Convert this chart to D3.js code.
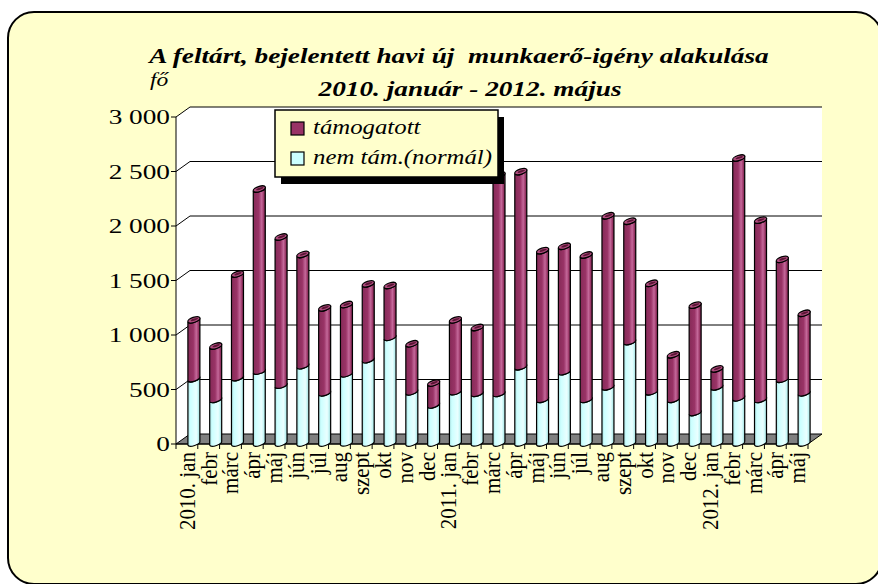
<!DOCTYPE html>
<meta charset="utf-8">
<title>Munkaerő-igény</title>
<style>
  body { margin: 0; background: #fff; }
</style>
<body>
<div id="chart"></div>
<script src="https://cdn.jsdelivr.net/npm/d3@7"></script>
<script>
// months, 2010 jan - 2012 máj
var months = ["2010. jan", "febr", "márc", "ápr", "máj", "jún", "júl", "aug", "szept", "okt", "nov", "dec",
              "2011. jan", "febr", "márc", "ápr", "máj", "jún", "júl", "aug", "szept", "okt", "nov", "dec",
              "2012. jan", "febr", "márc", "ápr", "máj"];
// nem támogatott (normál) - lower part
var nemTam = [590, 400, 600, 660, 530, 710, 460, 635, 765, 970, 470, 350,
              470, 455, 455, 700, 400, 655, 400, 515, 930, 470, 400, 280,
              515, 415, 400, 585, 460];
// támogatott - upper part
var tamogatott = [540, 490, 950, 1670, 1360, 1020, 780, 635, 695, 475, 440, 200,
                  660, 605, 2005, 1790, 1365, 1150, 1325, 1570, 1105, 995, 410, 985,
                  165, 2200, 1645, 1100, 730];
var yTicks = [0, 500, 1000, 1500, 2000, 2500, 3000];
var seriesNames = ["támogatott", "nem tám.(normál)"];

var W = 878, H = 584;
var dx = 14, dy = -10;   // 3d depth
var sx = 1.24;           // the original picture is stretched sideways
var svg = d3.select("#chart").append("svg")
    .attr("width", W).attr("height", H)
    .attr("font-family", "Liberation Serif");

var defs = svg.append("defs");
function grad(id, stops) {
  var g = defs.append("linearGradient").attr("id", id)
      .attr("x1", 0).attr("x2", 1).attr("y1", 0).attr("y2", 0);
  stops.forEach(function(s) { g.append("stop").attr("offset", s[0]).attr("stop-color", s[1]); });
}
grad("gPurple", [[0, "#862b58"], [0.45, "#993366"], [0.7, "#c4689a"], [0.85, "#a03c6d"], [1, "#6e1f46"]]);
grad("gCyan", [[0, "#a9dede"], [0.2, "#ccffff"], [0.7, "#eaffff"], [0.85, "#c6f6f6"], [1, "#95c8c8"]]);

// frame
svg.append("rect")
    .attr("x", 8).attr("y", 12).attr("width", 874).attr("height", 572)
    .attr("rx", 26).attr("ry", 26)
    .attr("fill", "#ffffcc").attr("stroke", "#000").attr("stroke-width", 2);

// scales
var x = d3.scaleBand().domain(d3.range(months.length)).range([176, 808]);
var y = d3.scaleLinear().domain([0, 3000]).range([444, 117]);

// walls
var x0 = x.range()[0], x1 = x.range()[1];
svg.append("polygon")
    .attr("points", [[x0, y(3000)], [x0 + dx, y(3000) + dy], [x1 + dx, y(3000) + dy], [x1 + dx, y(0) + dy], [x0, y(0)]].join(" "))
    .attr("fill", "#fff");

// gridlines
svg.append("g").selectAll("path")
  .data(yTicks.slice(1))
  .join("path")
    .attr("d", function(v) {
      return "M" + x0 + "," + y(v) + "L" + (x0 + dx) + "," + (y(v) + dy) + "L" + (x1 + dx) + "," + (y(v) + dy);
    })
    .attr("fill", "none").attr("stroke", "#000").attr("stroke-width", 1);

// floor
svg.append("polygon")
    .attr("points", [[x0, y(0)], [x1, y(0)], [x1 + dx, y(0) + dy], [x0 + dx, y(0) + dy]].join(" "))
    .attr("fill", "#808080").attr("stroke", "#000").attr("stroke-width", 1);

// y axis
var yAxis = svg.append("g");
yAxis.append("line").attr("x1", x0).attr("x2", x0).attr("y1", y(3000)).attr("y2", y(0))
    .attr("stroke", "#000");
yAxis.selectAll("line.tick").data(yTicks).join("line").attr("class", "tick")
    .attr("x1", x0 - 5).attr("x2", x0).attr("y1", d => y(d)).attr("y2", d => y(d))
    .attr("stroke", "#000");
yAxis.selectAll("text").data(yTicks).join("text")
    .attr("transform", d => "translate(" + (x0 - 6) + "," + y(d) + ") scale(" + sx + ",1)")
    .attr("dy", "0.34em")
    .attr("text-anchor", "end").attr("font-size", 22)
    .text(d => d3.format(",")(d).replace(",", " "));

// x axis
var xAxis = svg.append("g");
xAxis.append("line").attr("x1", x0).attr("x2", x1).attr("y1", y(0)).attr("y2", y(0)).attr("stroke", "#000");
xAxis.selectAll("line.tick").data(d3.range(months.length + 1)).join("line").attr("class", "tick")
    .attr("x1", d => x0 + d * x.bandwidth()).attr("x2", d => x0 + d * x.bandwidth())
    .attr("y1", y(0)).attr("y2", y(0) + 5).attr("stroke", "#000");
xAxis.selectAll("text").data(months).join("text")
    .attr("transform", (d, i) => "translate(" + (x(i) + x.bandwidth() / 2) + "," + (y(0) + 8) + ") scale(1.12,1) rotate(-90)")
    .attr("dy", "0.34em").attr("text-anchor", "end")
    .attr("font-size", 21)
    .text(d => d);

// bars (cylinders)
var bw = 12, s = 2;
var rx = Math.sqrt((bw / 2) * (bw / 2) + s * s), ry = 2.6;
var rot = Math.atan2(-s, bw / 2) * 180 / Math.PI;
function segPath(cx, yb, yt) {
  var l = cx - bw / 2, r = cx + bw / 2;
  return "M" + l + "," + (yt + s) + "L" + l + "," + (yb + s) +
    "A" + rx + "," + ry + " " + rot + " 0 0 " + r + "," + (yb - s) +
    "L" + r + "," + (yt - s) +
    "A" + rx + "," + ry + " " + rot + " 0 1 " + l + "," + (yt + s) + "Z";
}
var bars = svg.append("g").selectAll("g")
  .data(months.map(function(m, i) { return {i: i, nem: nemTam[i], tam: tamogatott[i]}; }))
  .join("g");
function cxOf(d) { return x(d.i) + x.bandwidth() / 2 + dx / 2; }
var base = y(0) - 1;
bars.append("path")
    .attr("d", d => segPath(cxOf(d), base, y(d.nem) - 1))
    .attr("fill", "url(#gCyan)").attr("stroke", "#000").attr("stroke-width", 1.2);
bars.append("path")
    .attr("d", d => segPath(cxOf(d), y(d.nem) - 1, y(d.nem + d.tam) - 1))
    .attr("fill", "url(#gPurple)").attr("stroke", "#000").attr("stroke-width", 1.2);
bars.append("ellipse")
    .attr("transform", d => "translate(" + cxOf(d) + "," + (y(d.nem + d.tam) - 1) + ") rotate(" + rot + ")")
    .attr("rx", rx).attr("ry", ry)
    .attr("fill", "#b04c7e").attr("stroke", "#000").attr("stroke-width", 1.2);
bars.append("ellipse")
    .attr("transform", d => "translate(" + (cxOf(d) + 0.5) + "," + (y(d.nem + d.tam) - 1.3) + ") rotate(" + rot + ")")
    .attr("rx", rx - 2.5).attr("ry", 1)
    .attr("fill", "#5a1535");

// legend
var leg = svg.append("g").attr("transform", "translate(275,110)");
leg.append("rect").attr("x", 6).attr("y", 7).attr("width", 223).attr("height", 67).attr("fill", "#000");
leg.append("rect").attr("width", 223).attr("height", 67)
    .attr("fill", "#ffffcc").attr("stroke", "#000").attr("stroke-width", 1.5);
var li = leg.selectAll("g.item").data(seriesNames).join("g").attr("class", "item")
    .attr("transform", (d, i) => "translate(16," + (12 + i * 30) + ")");
li.append("rect").attr("width", 13).attr("height", 13)
    .attr("fill", (d, i) => i === 0 ? "#993366" : "#ccffff")
    .attr("stroke", "#000").attr("stroke-width", 1.2);
li.append("text").attr("transform", "translate(22,12) scale(" + sx + ",1)")
    .attr("font-size", 20).attr("font-style", "italic")
    .text(d => d);

// titles
svg.append("text").attr("transform", "translate(459,63) scale(" + sx + ",1)")
    .attr("text-anchor", "middle")
    .attr("font-size", 22).attr("font-weight", "bold").attr("font-style", "italic")
    .attr("xml:space", "preserve")
    .text("A feltárt, bejelentett havi új  munkaerő-igény alakulása");
svg.append("text").attr("transform", "translate(470,96) scale(" + sx + ",1)")
    .attr("text-anchor", "middle")
    .attr("font-size", 22).attr("font-weight", "bold").attr("font-style", "italic")
    .text("2010. január - 2012. május");
svg.append("text").attr("transform", "translate(150,86) scale(" + sx + ",1)")
    .attr("font-size", 19).attr("font-style", "italic")
    .text("fő");
</script>
</body>
